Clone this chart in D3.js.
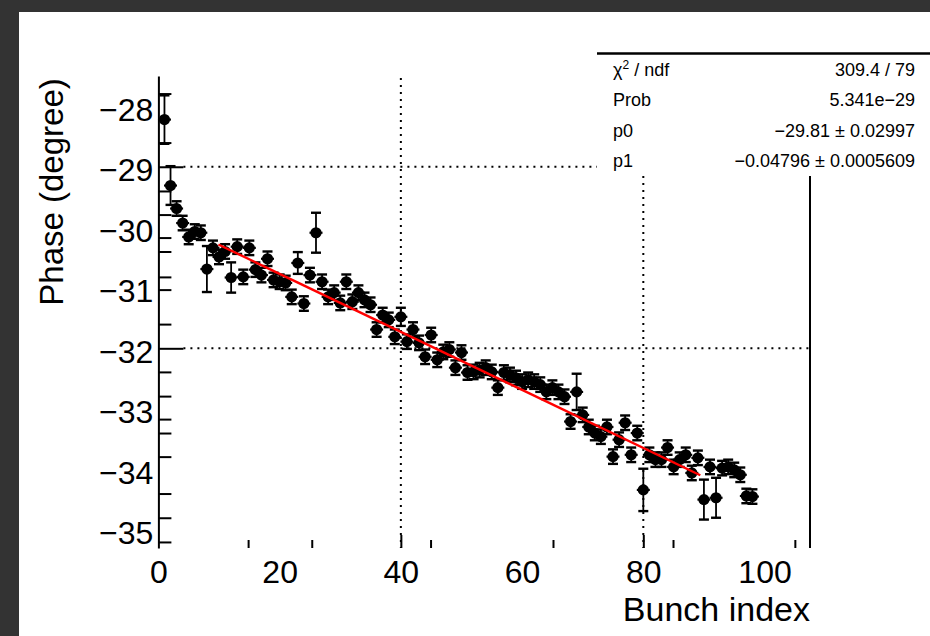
<!DOCTYPE html>
<html>
<head>
<meta charset="utf-8">
<script src="https://cdn.jsdelivr.net/npm/d3@7"></script>
<style>
  html, body { margin: 0; padding: 0; background: #333; }
  svg { display: block; font-family: "Liberation Sans", Arial, Helvetica, sans-serif; }
</style>
</head>
<body>
<svg id="chart" width="930" height="636"></svg>
<script>
// Bunch-by-bunch phase measurement with a linear fit
const bunchIndex = [
  1, 2, 3, 4, 5, 6, 7, 8, 9, 10, 11, 12, 13, 14, 15, 16, 17, 18, 19, 20,
  21, 22, 23, 24, 25, 26, 27, 28, 29, 30, 31, 32, 33, 34, 35, 36, 37, 38, 39, 40,
  41, 42, 43, 44, 45, 46, 47, 48, 49, 50, 51, 52, 53, 54, 55, 56, 57, 58, 59, 60,
  61, 62, 63, 64, 65, 66, 67, 68, 69, 70, 71, 72, 73, 74, 75, 76, 77, 78, 79, 80,
  81, 82, 83, 84, 85, 86, 87, 88, 89, 90, 91, 92, 93, 94, 95, 96, 97, 98
];
const phase = [
  -28.22, -29.31, -29.69, -29.93, -30.16, -30.07, -30.09, -30.69, -30.34, -30.49,
  -30.40, -30.83, -30.32, -30.82, -30.34, -30.70, -30.79, -30.52, -30.87, -30.90,
  -30.92, -31.15, -30.59, -31.26, -30.79, -30.09, -30.90, -31.15, -31.08, -31.25,
  -30.90, -31.23, -31.08, -31.20, -31.28, -31.69, -31.45, -31.53, -31.81, -31.48,
  -31.89, -31.69, -31.91, -32.14, -31.78, -32.19, -32.06, -32.02, -32.32, -32.07,
  -32.40, -32.39, -32.36, -32.32, -32.39, -32.65, -32.40, -32.44, -32.49, -32.55,
  -32.52, -32.55, -32.60, -32.72, -32.65, -32.72, -32.80, -33.21, -32.72, -33.10,
  -33.30, -33.40, -33.46, -33.30, -33.79, -33.51, -33.23, -33.76, -33.40, -34.34,
  -33.76, -33.84, -33.84, -33.64, -33.96, -33.84, -33.76, -34.06, -33.81, -34.50,
  -33.96, -34.47, -33.98, -33.96, -34.01, -34.09, -34.44, -34.45
];
const phaseErr = [
  0.40, 0.32, 0.12, 0.12, 0.12, 0.12, 0.12, 0.38, 0.12, 0.12,
  0.12, 0.25, 0.12, 0.12, 0.12, 0.12, 0.12, 0.12, 0.12, 0.12,
  0.12, 0.12, 0.18, 0.12, 0.12, 0.33, 0.12, 0.12, 0.12, 0.12,
  0.12, 0.12, 0.12, 0.12, 0.12, 0.12, 0.12, 0.12, 0.12, 0.15,
  0.12, 0.12, 0.12, 0.12, 0.12, 0.12, 0.12, 0.12, 0.12, 0.12,
  0.12, 0.12, 0.12, 0.12, 0.12, 0.12, 0.12, 0.12, 0.12, 0.12,
  0.12, 0.12, 0.12, 0.12, 0.12, 0.12, 0.12, 0.12, 0.30, 0.12,
  0.12, 0.12, 0.12, 0.12, 0.12, 0.12, 0.12, 0.12, 0.12, 0.35,
  0.12, 0.12, 0.12, 0.12, 0.12, 0.12, 0.12, 0.12, 0.12, 0.33,
  0.12, 0.33, 0.12, 0.12, 0.12, 0.12, 0.12, 0.12
];

// Linear fit pol1: phase = p0 + p1 * index
const fitP0 = -29.81;
const fitP1 = -0.04796;
const fitRange = [9.9, 89.4];

// Fit statistics box
const statLabels = ["χ²/ndf", "Prob", "p0", "p1"];
const statValues = ["309.4 / 79", "5.341e\u221229", "\u221229.81 \u00b1 0.02997", "\u22120.04796 \u00b1 0.0005609"];

// Axis ticks
const yTickLabels = [-28, -29, -30, -31, -32, -33, -34, -35];
const yMajorTicks = [-29, -32];
const yMinorTicks = [-27.79, -28.60, -29.40, -29.79, -30.17, -30.40, -30.82, -31.03, -31.60,
                     -32.39, -32.79, -33.17, -33.40, -33.79, -34.40, -34.80, -35.20];
const xTickLabels = [0, 20, 40, 60, 80, 100];
const xMajorTicks = [40, 80];
const xMinorTicks = [14.8, 25.3, 44.9, 65.1, 84.9, 105.0];
const gridX = [40, 80];
const gridY = [-29, -32];

const W = 930, H = 636;
const svg = d3.select("#chart");

// canvas
svg.append("rect").attr("width", W).attr("height", H).attr("fill", "#333");
svg.append("rect").attr("x", 19).attr("y", 12).attr("width", W - 19).attr("height", H - 12).attr("fill", "#fff");

const x = d3.scaleLinear().domain([0, 107.5]).range([158.4, 810]);
const y = d3.scaleLinear().domain([-35.3, -27.5]).range([548, 76]);
const minus = d => (d < 0 ? "\u2212" : "") + Math.abs(d);

// dotted grid
const grid = svg.append("g").attr("stroke", "#000").attr("stroke-width", 2)
  .attr("stroke-dasharray", "2,5").attr("fill", "none");
grid.selectAll("line.gx").data(gridX).join("line").attr("class", "gx")
  .attr("x1", d => x(d)).attr("x2", d => x(d))
  .attr("y1", y.range()[1] + 2).attr("y2", y.range()[0]);
grid.selectAll("line.gy").data(gridY).join("line").attr("class", "gy")
  .attr("x1", x.range()[0] + 25).attr("x2", x.range()[1])
  .attr("y1", d => y(d)).attr("y2", d => y(d));

// right frame edge
svg.append("line").attr("x1", x.range()[1]).attr("x2", x.range()[1])
  .attr("y1", 176).attr("y2", y.range()[0]).attr("stroke", "#000").attr("stroke-width", 2);

// data points with error bars
const pts = bunchIndex.map((b, i) => ({ b, v: phase[i], e: phaseErr[i] }));
const gp = svg.append("g");
const eb = gp.append("g").attr("stroke", "#000").attr("stroke-width", 1.8);
eb.selectAll("line.v").data(pts).join("line").attr("class", "v")
  .attr("x1", d => x(d.b)).attr("x2", d => x(d.b))
  .attr("y1", d => y(d.v + d.e)).attr("y2", d => y(d.v - d.e));
eb.selectAll("line.h").data(pts).join("line").attr("class", "h")
  .attr("x1", d => x(d.b) - 6.5).attr("x2", d => x(d.b) + 6.5)
  .attr("y1", d => y(d.v)).attr("y2", d => y(d.v)).attr("stroke-width", 2.2);
eb.selectAll("line.ct").data(pts).join("line").attr("class", "ct")
  .attr("x1", d => x(d.b) - 5).attr("x2", d => x(d.b) + 5)
  .attr("y1", d => y(d.v + d.e)).attr("y2", d => y(d.v + d.e)).attr("stroke-width", 2.4);
eb.selectAll("line.cb").data(pts).join("line").attr("class", "cb")
  .attr("x1", d => x(d.b) - 5).attr("x2", d => x(d.b) + 5)
  .attr("y1", d => y(d.v - d.e)).attr("y2", d => y(d.v - d.e)).attr("stroke-width", 2.4);
gp.selectAll("circle").data(pts).join("circle")
  .attr("cx", d => x(d.b)).attr("cy", d => y(d.v)).attr("r", 5.6).attr("fill", "#000");

// fit line
const fitLine = d3.line().x(d => x(d)).y(d => y(fitP0 + fitP1 * d));
svg.append("path").datum(fitRange).attr("d", fitLine)
  .attr("stroke", "#ff0000").attr("stroke-width", 2.4).attr("fill", "none");

// y axis: line and ticks
const yMinorAxis = d3.axisRight(y).tickValues(yMinorTicks).tickSize(13).tickSizeOuter(0).tickFormat("");
const yMajorAxis = d3.axisRight(y).tickValues(yMajorTicks).tickSize(25).tickSizeOuter(0).tickFormat("");
const gyMinor = svg.append("g").attr("transform", `translate(${x.range()[0]},0)`).call(yMinorAxis);
const gyMajor = svg.append("g").attr("transform", `translate(${x.range()[0]},0)`).call(yMajorAxis);
gyMajor.select(".domain").remove();
[gyMinor, gyMajor].forEach(g => g.selectAll("line, path").attr("stroke", "#000").attr("stroke-width", 2));

// y tick labels
const yLabelAxis = d3.axisLeft(y).tickValues(yTickLabels).tickSize(0).tickPadding(5).tickFormat(minus);
const gyLab = svg.append("g").attr("transform", `translate(${x.range()[0]},0)`).call(yLabelAxis);
gyLab.select(".domain").remove();
gyLab.selectAll("text").attr("font-size", 32).attr("dy", "0.44em")
  .attr("fill", "#000").attr("font-family", "Liberation Sans, Arial, sans-serif");

// x axis ticks (no axis line drawn)
const bottom = y.range()[0];
const xMinorAxis = d3.axisTop(x).tickValues(xMinorTicks).tickSize(8).tickFormat("");
const xMajorAxis = d3.axisTop(x).tickValues(xMajorTicks).tickSize(13).tickFormat("");
[xMinorAxis, xMajorAxis].forEach(ax => {
  const g = svg.append("g").attr("transform", `translate(0,${bottom})`).call(ax);
  g.select(".domain").remove();
  g.selectAll("line").attr("stroke", "#000").attr("stroke-width", 2);
});

// x tick labels
const xLabelAxis = d3.axisBottom(x).tickValues(xTickLabels).tickSize(0).tickPadding(12).tickFormat(d3.format("d"));
const gxLab = svg.append("g").attr("transform", `translate(0,${bottom})`).call(xLabelAxis);
gxLab.select(".domain").remove();
gxLab.selectAll("text").attr("font-size", 32).attr("fill", "#000")
  .attr("font-family", "Liberation Sans, Arial, sans-serif");

// axis titles
svg.append("text").attr("transform", "translate(63,192) rotate(-90)")
  .attr("text-anchor", "middle").attr("font-size", 33).attr("fill", "#000")
  .text("Phase (degree)");
svg.append("text").attr("x", x.range()[1]).attr("y", 621)
  .attr("text-anchor", "end").attr("font-size", 34).attr("fill", "#000")
  .text("Bunch index");

// statistics box
const sb = svg.append("g");
sb.append("rect").attr("x", 597).attr("y", 53).attr("width", W - 597).attr("height", 123).attr("fill", "#fff");
sb.append("line").attr("x1", 597).attr("x2", W).attr("y1", 53.5).attr("y2", 53.5)
  .attr("stroke", "#000").attr("stroke-width", 2.5);
const rowY = d3.scalePoint().domain(statLabels).range([76, 167]);
statLabels.forEach((lab, i) => {
  const t = sb.append("text").attr("x", 613).attr("y", rowY(lab)).attr("font-size", 18).attr("fill", "#000");
  if (lab === "χ²/ndf") {
    t.append("tspan").text("χ");
    t.append("tspan").attr("dy", -7).attr("font-size", 12).text("2");
    t.append("tspan").attr("dy", 7).text(" / ndf");
  } else {
    t.text(lab);
  }
  sb.append("text").attr("x", 915).attr("y", rowY(lab)).attr("text-anchor", "end")
    .attr("font-size", 18).attr("fill", "#000").text(statValues[i]);
});
</script>
</body>
</html>
